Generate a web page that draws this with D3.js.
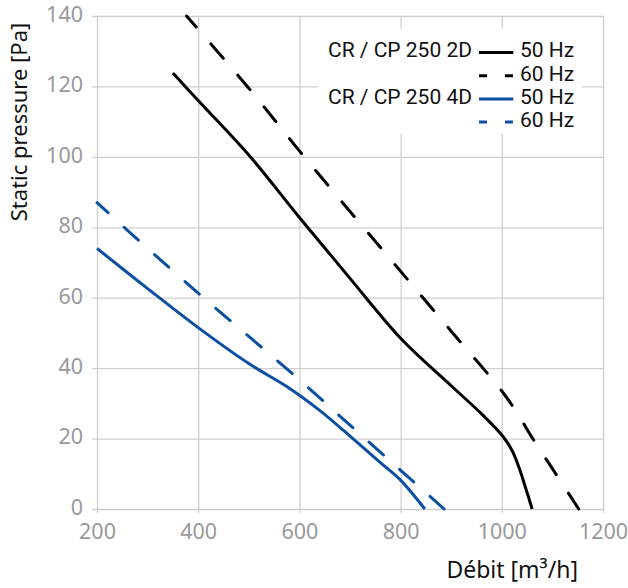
<!DOCTYPE html>
<html>
<head>
<meta charset="utf-8">
<script src="https://cdn.jsdelivr.net/npm/d3@7"></script>
<style>
  html, body { margin: 0; padding: 0; background: #fff; }
  svg { display: block; }
</style>
</head>
<body>
<svg id="chart" width="628" height="588"></svg>
<script>
// ---- data ----
const xTicks = [200, 400, 600, 800, 1000, 1200];
const yTicks = [0, 20, 40, 60, 80, 100, 120, 140];

const cp2d50 = [[350,123.8],[400,116],[500,100.5],[600,82.8],[700,65.5],[800,48.5],[900,35],[960,27],[1000,21],[1020,16.7],[1034,11.8],[1047,6],[1060,0]];
const cp2d60 = [[377,140],[500,119.5],[600,101.7],[700,84.5],[800,67.5],[900,50.5],[1000,33.5],[1030,27.3],[1062,19.8],[1108,9.7],[1152,0]];
const cp4d50 = [[200,74],[300,62.6],[400,51.5],[500,41.3],[580,34.3],[640,28],[700,20.7],[760,13.2],[800,8.2],[848,0]];
const cp4d60 = [[200,87],[300,74],[400,61.3],[500,49],[600,36.7],[700,23.8],[800,11],[886,0]];

const seriesNames = ["CR / CP 250 2D", "CR / CP 250 4D"];
const freqLabels = ["50 Hz", "60 Hz"];
const xTitle = "Débit [m³/h]";
const yTitle = "Static pressure [Pa]";

// ---- drawing ----
const svg = d3.select("#chart");
const x = d3.scaleLinear().domain([200, 1200]).range([97, 603]);
const y = d3.scaleLinear().domain([0, 140]).range([509, 16]);

const gridColor = "#cfcfcf";
const tickColor = "#999999";
const tickFont = "'Noto Sans', 'Open Sans', sans-serif";

// x axis with vertical gridlines
const gx = svg.append("g")
  .attr("transform", "translate(0,513)")
  .call(d3.axisBottom(x).tickValues(xTicks).tickSize(-(513 - 16)).tickPadding(11).tickFormat(d3.format("d")));
gx.select(".domain").remove();
gx.selectAll(".tick line").attr("stroke", gridColor).attr("stroke-width", 1.3);
gx.selectAll(".tick text").attr("fill", tickColor).style("font-family", tickFont).style("font-size", "21.5px");

// y axis with horizontal gridlines
const gy = svg.append("g")
  .attr("transform", "translate(92,0)")
  .call(d3.axisLeft(y).tickValues(yTicks).tickSize(-(603 - 92)).tickPadding(9).tickFormat(d3.format("d")));
gy.select(".domain").remove();
gy.selectAll(".tick line").attr("stroke", gridColor).attr("stroke-width", 1.3);
gy.selectAll(".tick text").attr("fill", tickColor).attr("dy", "0.25em").style("font-family", tickFont).style("font-size", "21.5px");

// legend background
svg.append("rect").attr("x", 318).attr("y", 29).attr("width", 264).attr("height", 105).attr("fill", "#fff");

// curves
const line = d3.line().x(d => x(d[0])).y(d => y(d[1])).curve(d3.curveCatmullRom.alpha(0.5));
const black = "#000000", blue = "#0b4fa3";
const dashLen = 19, firstDash = 15;
const curves = [
  { data: cp2d50, color: black, dashed: false },
  { data: cp2d60, color: black, dashed: true },
  { data: cp4d50, color: blue, dashed: false },
  { data: cp4d60, color: blue, dashed: true }
];
curves.forEach(c => {
  const p = svg.append("path").attr("d", line(c.data)).attr("fill", "none")
    .attr("stroke", c.color).attr("stroke-width", 3)
    .attr("stroke-linecap", c.dashed ? "round" : "butt");
  if (c.dashed) {
    // fit a whole number of periods so the line starts with a short dash and ends on a full dash
    const L = p.node().getTotalLength();
    const k = Math.round((L - firstDash) / 40);
    const period = (L - firstDash) / k;
    const gap = period - dashLen;
    p.attr("stroke-dasharray", dashLen + "," + gap).attr("stroke-dashoffset", dashLen - firstDash);
  }
});

// legend
const legFont = "Roboto, 'Noto Sans', sans-serif";
const rows = [
  { name: seriesNames[0], freq: freqLabels[0], color: black, dash: null },
  { name: null, freq: freqLabels[1], color: black, dash: "8,18" },
  { name: seriesNames[1], freq: freqLabels[0], color: blue, dash: null },
  { name: null, freq: freqLabels[1], color: blue, dash: "8,18" }
];
rows.forEach((r, i) => {
  const base = 57.3 + i * 23.2;
  if (r.name) {
    svg.append("text").attr("x", 472).attr("y", base).attr("text-anchor", "end")
      .style("font-family", legFont).style("font-size", "21px").attr("fill", "#111").text(r.name);
  }
  svg.append("line").attr("x1", 479).attr("x2", 513.3).attr("y1", base - 4.8).attr("y2", base - 4.8)
    .attr("stroke", r.color).attr("stroke-width", 3).attr("stroke-dasharray", r.dash);
  svg.append("text").attr("x", 520).attr("y", base)
    .style("font-family", legFont).style("font-size", "21px").attr("fill", "#111").text(r.freq);
});

// axis titles
svg.append("text").attr("x", 578).attr("y", 578).attr("text-anchor", "end")
  .style("font-family", tickFont).style("font-size", "23px").attr("fill", "#111").text(xTitle);
svg.append("text").attr("transform", "translate(27,122) rotate(-90)").attr("text-anchor", "middle")
  .style("font-family", tickFont).style("font-size", "22px").attr("fill", "#111").text(yTitle);
</script>
</body>
</html>
